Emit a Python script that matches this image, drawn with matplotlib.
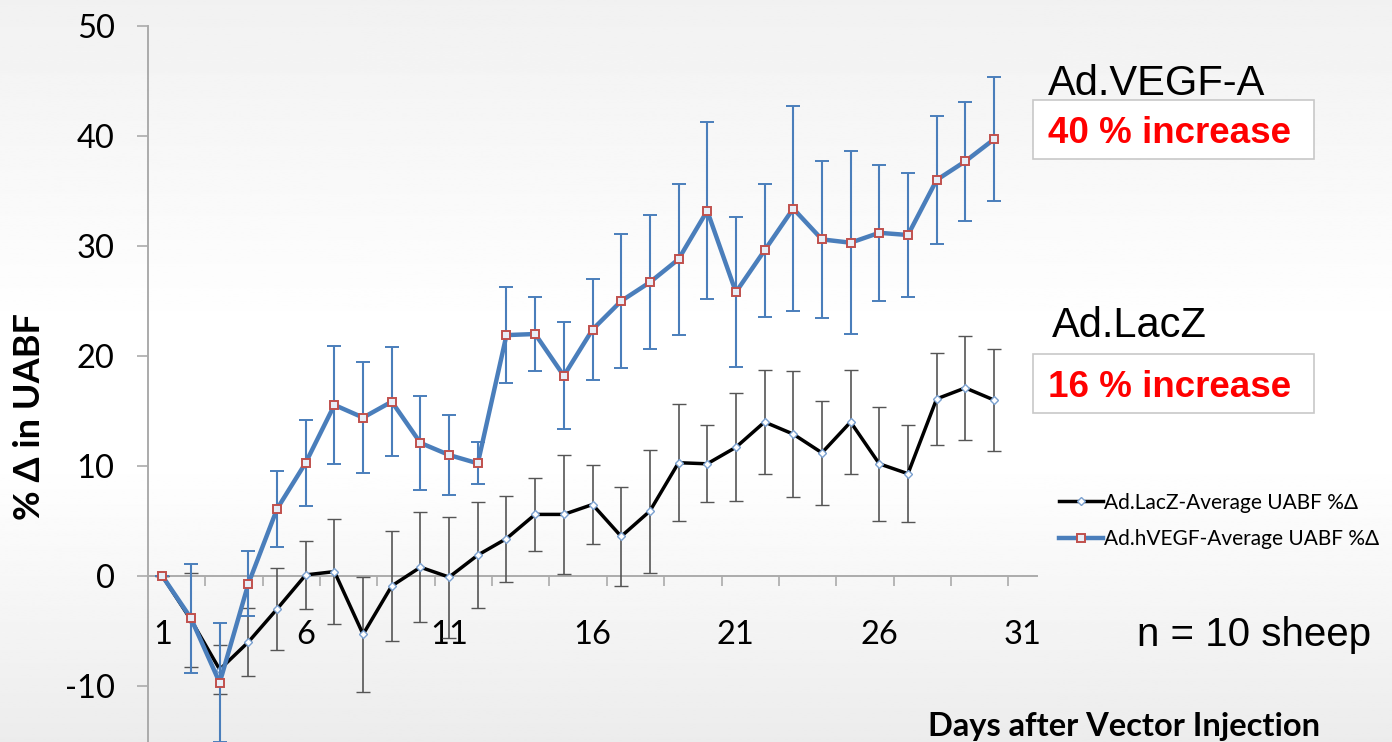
import numpy as np
import matplotlib
matplotlib.use('Agg')
import matplotlib.pyplot as plt
from matplotlib.lines import Line2D
from matplotlib.patches import Rectangle

plt.rcParams['font.family'] = ['Lato', 'DejaVu Sans']
plt.rcParams['axes.unicode_minus'] = False

days = np.arange(1, 31)

# Ad.LacZ control group
lacz_mean = [0.0, -4.0, -8.5, -6.0, -3.0, 0.1, 0.4, -5.3, -0.9, 0.8,
             -0.1, 1.9, 3.4, 5.6, 5.6, 6.5, 3.6, 5.9, 10.3, 10.2,
             11.7, 14.0, 12.9, 11.2, 14.0, 10.2, 9.3, 16.1, 17.1, 16.0]
lacz_err = [0.0, 4.3, 2.2, 3.1, 3.75, 3.1, 4.8, 5.2, 5.0, 5.0,
            5.5, 4.8, 3.9, 3.3, 5.4, 3.6, 4.5, 5.6, 5.3, 3.5,
            4.9, 4.7, 5.7, 4.7, 4.7, 5.2, 4.4, 4.15, 4.7, 4.6]

# Ad.hVEGF treated group
vegf_mean = [0.0, -3.85, -9.7, -0.7, 6.1, 10.3, 15.55, 14.4, 15.85, 12.1,
             11.0, 10.24, 21.9, 22.0, 18.2, 22.4, 25.0, 26.7, 28.8, 33.2,
             25.8, 29.6, 33.4, 30.6, 30.3, 31.2, 31.0, 36.0, 37.7, 39.7]
vegf_err = [0.0, 4.97, 5.4, 2.95, 3.45, 3.9, 5.4, 5.07, 4.93, 4.29,
            3.6, 1.9, 4.33, 3.4, 4.88, 4.58, 6.08, 6.1, 6.85, 8.05,
            6.82, 6.06, 9.3, 7.1, 8.3, 6.17, 5.67, 5.83, 5.4, 5.65]

xtick_days = [1, 6, 11, 16, 21, 26, 31]
yticks = [-10, 0, 10, 20, 30, 40, 50]

blue = '#4a7ebb'
marker_red = '#c0504d'

fig = plt.figure(figsize=(13.92, 7.42), dpi=100)

# soft vertical gradient behind everything
bg = fig.add_axes([0, 0, 1, 1], zorder=-10)
rows = np.linspace(0, 1, 400)
shade = np.interp(rows, [0, 0.45, 0.62, 1.0], [0.945, 1.0, 1.0, 0.925])
bg.imshow(np.repeat(shade[:, None], 2, axis=1), cmap='gray', vmin=0, vmax=1,
          aspect='auto', extent=[0, 1, 0, 1], origin='upper')
bg.axis('off')

ax = fig.add_axes([148 / 1392, 0, (1037 - 148) / 1392, 716 / 742])
ax.patch.set_alpha(0)

ax.errorbar(days, lacz_mean, yerr=lacz_err, color='black', lw=2.5,
            marker='D', ms=4.2, mfc='white', mec='#7aa0cf', mew=1.0,
            ecolor='#555555', elinewidth=1.2, capsize=5, capthick=1.2,
            zorder=3)
ax.errorbar(days, vegf_mean, yerr=vegf_err, color=blue, lw=3.2,
            marker='s', ms=6.2, mfc='#e8eef7', mec=marker_red, mew=1.4,
            ecolor=blue, elinewidth=1.5, capsize=5, capthick=1.5,
            zorder=4)

ax.set_xlim(0.5, 31.5)
ax.set_ylim(-15.09, 50)

ax.spines['top'].set_visible(False)
ax.spines['right'].set_visible(False)
ax.spines['bottom'].set_position(('data', 0))
for s in ('left', 'bottom'):
    ax.spines[s].set_color('#ababab')
    ax.spines[s].set_linewidth(1.4)

ax.set_xticks(xtick_days)
ax.set_xticks(np.arange(2.5, 31, 2), minor=True)
ax.tick_params(axis='x', which='major', length=0, pad=32, labelsize=23.5)
ax.tick_params(axis='x', which='minor', length=7.5, width=1.2,
               color='#ababab', direction='out')
ax.set_yticks(yticks)
ax.tick_params(axis='y', length=8, width=1.2, color='#ababab', pad=16,
               labelsize=23.5)

fig.text(30 / 1392, 1 - 417 / 742, '% Δ in UABF', rotation=90, fontsize=26,
         fontweight='bold', ha='center', va='center')
fig.text(928 / 1392, 1 - 736 / 742, 'Days after Vector Injection',
         fontsize=23.5, fontweight='bold', ha='left', va='baseline')

arial = 'Liberation Sans'
fig.text(1048 / 1392, 1 - 95 / 742, 'Ad.VEGF-A', family=arial, fontsize=30,
         va='baseline')
fig.text(1052 / 1392, 1 - 337 / 742, 'Ad.LacZ', family=arial, fontsize=30,
         va='baseline')
for top, bottom, label, base in [(100, 159, '40 % increase', 143),
                                 (354, 413, '16 % increase', 397)]:
    fig.patches.append(Rectangle((1033 / 1392, 1 - bottom / 742),
                                 281 / 1392, (bottom - top) / 742,
                                 transform=fig.transFigure, facecolor='white',
                                 edgecolor='#c8c8c8', lw=1.2, zorder=1))
    fig.text(1048 / 1392, 1 - base / 742, label, family=arial, fontsize=26.5,
             fontweight='bold', color='#ff0000', va='baseline', zorder=2)
fig.text(1137 / 1392, 1 - 646 / 742, 'n = 10 sheep', family=arial,
         fontsize=29, va='baseline')

handles = [
    Line2D([], [], color='black', lw=2.5, marker='D', ms=4.2, mfc='white',
           mec='#7aa0cf', mew=1.0),
    Line2D([], [], color=blue, lw=3.2, marker='s', ms=6.2, mfc='#e8eef7',
           mec=marker_red, mew=1.4),
]
fig.legend(handles, ['Ad.LacZ-Average UABF %Δ', 'Ad.hVEGF-Average UABF %Δ'],
           loc='center left', bbox_to_anchor=(1049 / 1392, 1 - 521 / 742),
           frameon=False, fontsize=15, handlelength=2.1, handletextpad=0.05,
           labelspacing=0.8, borderpad=0)

fig.savefig('out.png', dpi=100)
